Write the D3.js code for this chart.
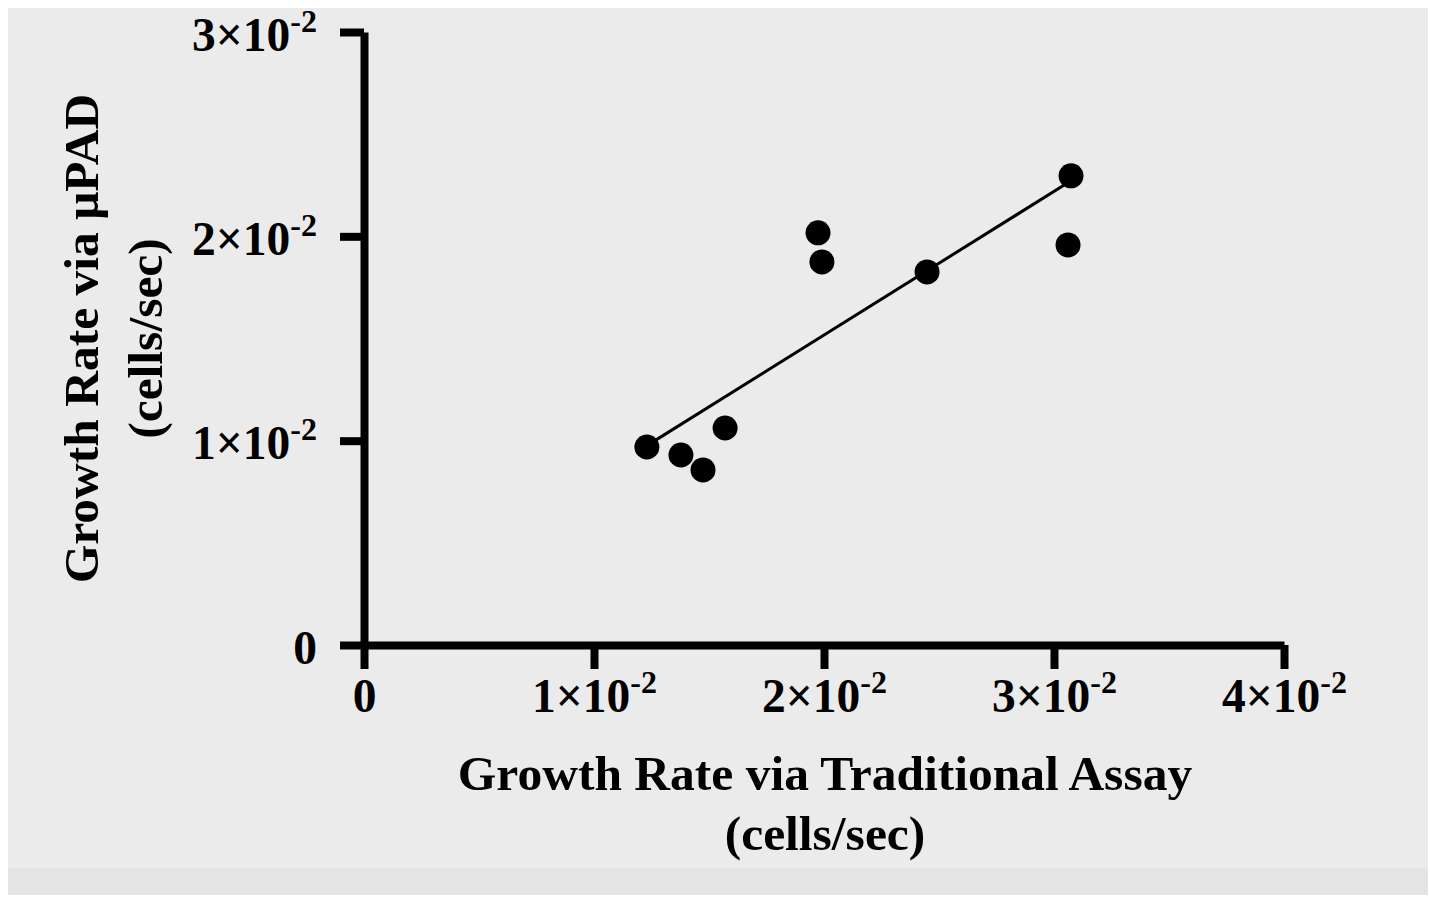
<!DOCTYPE html>
<html>
<head>
<meta charset="utf-8">
<script src="https://cdn.jsdelivr.net/npm/d3@7"></script>
<style>
  body { margin: 0; background: #fff; }
  svg { display: block; font-family: "Liberation Serif", "Times New Roman", serif; font-weight: bold; }
</style>
</head>
<body>
<svg id="chart" width="1430" height="899"></svg>
<script>
// measured values (traditional assay vs uPAD), cells/sec
const traditional = [0.0123, 0.01378, 0.01474, 0.0157, 0.01974, 0.01991, 0.02448, 0.03074, 0.03061];
const upad        = [0.00969, 0.0093, 0.00857, 0.01062, 0.02017, 0.01875, 0.01826, 0.02296, 0.01958];

// linear fit
const fitSlope = 0.703;
const fitIntercept = 0.00111;

const xTicks = [0, 0.01, 0.02, 0.03, 0.04];
const yTicks = [0, 0.01, 0.02, 0.03];
const xTickLabels = [["0", ""], ["1×10", "-2"], ["2×10", "-2"], ["3×10", "-2"], ["4×10", "-2"]];
const yTickLabels = [["0", ""], ["1×10", "-2"], ["2×10", "-2"], ["3×10", "-2"]];

const xTitle = ["Growth Rate via Traditional Assay", "(cells/sec)"];
const yTitle = ["Growth Rate via μPAD", "(cells/sec)"];

const svg = d3.select("#chart");

// panel background
svg.append("rect").attr("x", 8).attr("y", 8).attr("width", 1420).attr("height", 860).attr("fill", "#ebebeb");
svg.append("rect").attr("x", 8).attr("y", 868).attr("width", 1420).attr("height", 27).attr("fill", "#e4e4e4");

const x = d3.scaleLinear().domain([0, 0.04]).range([364, 1284]);
const y = d3.scaleLinear().domain([0, 0.03]).range([645, 32]);

function styleAxis(g) {
  g.attr("font-family", null).attr("font-size", null);
  g.select(".domain").attr("stroke", "#000").attr("stroke-width", 8);
  g.selectAll(".tick line").attr("stroke", "#000").attr("stroke-width", 8);
}

function supLabel(sel, labels) {
  sel.each(function(d, i) {
    const t = d3.select(this).text(null);
    const [base, exp] = labels[i];
    t.append("tspan").text(base);
    if (exp) t.append("tspan").attr("font-size", 32).attr("dy", -19).text(exp);
  });
}

const gx = svg.append("g")
  .attr("transform", `translate(0,${y(0)})`)
  .call(d3.axisBottom(x).tickValues(xTicks).tickSize(24).tickSizeOuter(0));
styleAxis(gx);
gx.selectAll(".tick text")
  .attr("y", 67).attr("dy", 0)
  .attr("font-size", 47.5).attr("fill", "#000")
  .call(supLabel, xTickLabels);

const gy = svg.append("g")
  .attr("transform", `translate(${x(0)},0)`)
  .call(d3.axisLeft(y).tickValues(yTicks).tickSize(24).tickSizeOuter(0));
styleAxis(gy);
gy.selectAll(".tick text")
  .attr("x", -47).attr("dy", 18)
  .attr("font-size", 47.5).attr("fill", "#000")
  .call(supLabel, yTickLabels);

// fit line
const xExt = d3.extent(traditional);
svg.append("line")
  .attr("x1", x(xExt[0])).attr("y1", y(fitIntercept + fitSlope * xExt[0]))
  .attr("x2", x(xExt[1])).attr("y2", y(fitIntercept + fitSlope * xExt[1]))
  .attr("stroke", "#000").attr("stroke-width", 3);

// points
svg.append("g").selectAll("circle")
  .data(traditional.map((v, i) => [v, upad[i]]))
  .join("circle")
  .attr("cx", d => x(d[0])).attr("cy", d => y(d[1]))
  .attr("r", 12.5).attr("fill", "#000");

// axis titles
svg.append("g").selectAll("text")
  .data(xTitle).join("text")
  .attr("x", (x(0) + x(0.04)) / 2 + 1)
  .attr("y", (d, i) => 790 + i * 60)
  .attr("text-anchor", "middle").attr("font-size", 49.5)
  .text(d => d);

svg.append("g").selectAll("text")
  .data(yTitle).join("text")
  .attr("transform", (d, i) => `translate(${98 + i * 64},${(y(0) + y(0.03)) / 2}) rotate(-90)`)
  .attr("text-anchor", "middle").attr("font-size", 49.5)
  .text(d => d);
</script>
</body>
</html>
